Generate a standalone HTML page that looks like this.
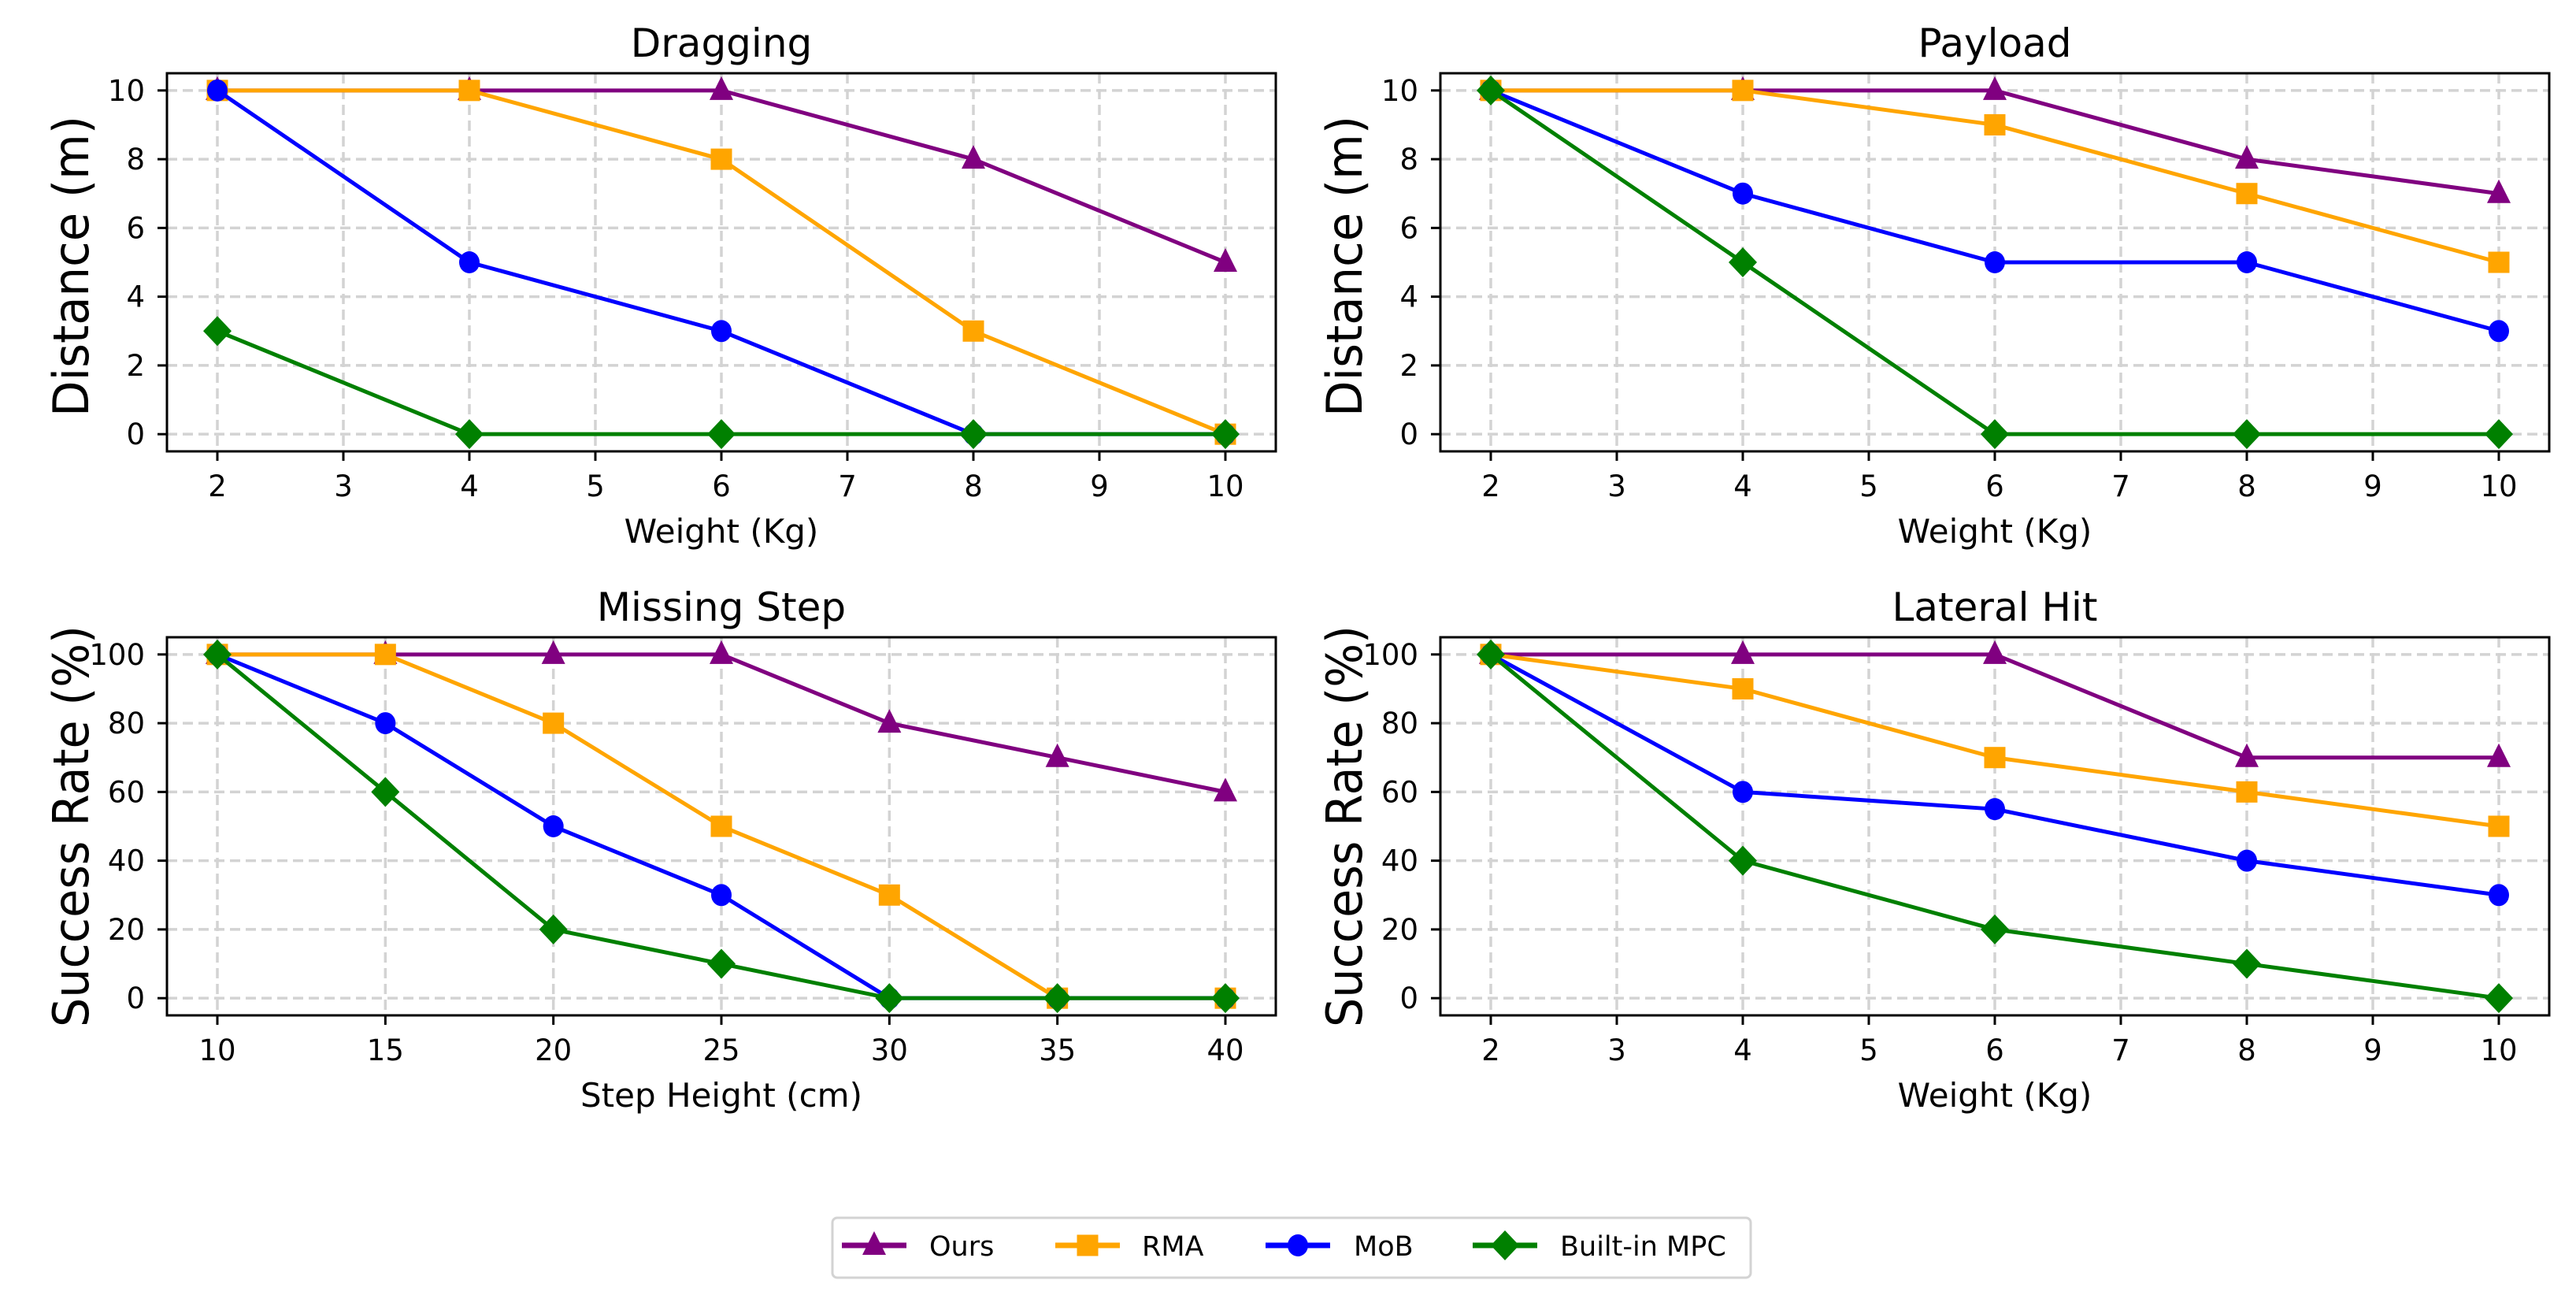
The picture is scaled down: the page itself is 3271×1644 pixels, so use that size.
<!DOCTYPE html>
<html><head><meta charset="utf-8"><style>
body{margin:0;background:#fff;}
svg text{font-family:"DejaVu Sans","Liberation Sans",sans-serif;fill:#000;}
</style></head><body>
<svg id="fig" width="3271" height="1639" viewBox="0 0 3271 1639" xmlns="http://www.w3.org/2000/svg"></svg>
<script>
// ---- data ----
const weightX = [2, 4, 6, 8, 10];
const stepX = [10, 15, 20, 25, 30, 35, 40];
const seriesNames = ["Ours", "RMA", "MoB", "Built-in MPC"];
const draggingOurs = [10, 10, 10, 8, 5];
const draggingRMA = [10, 10, 8, 3, 0];
const draggingMoB = [10, 5, 3, 0, 0];
const draggingMPC = [3, 0, 0, 0, 0];
const payloadOurs = [10, 10, 10, 8, 7];
const payloadRMA = [10, 10, 9, 7, 5];
const payloadMoB = [10, 7, 5, 5, 3];
const payloadMPC = [10, 5, 0, 0, 0];
const stepOurs = [100, 100, 100, 100, 80, 70, 60];
const stepRMA = [100, 100, 80, 50, 30, 0, 0];
const stepMoB = [100, 80, 50, 30, 0, 0, 0];
const stepMPC = [100, 60, 20, 10, 0, 0, 0];
const lateralOurs = [100, 100, 100, 70, 70];
const lateralRMA = [100, 90, 70, 60, 50];
const lateralMoB = [100, 60, 55, 40, 30];
const lateralMPC = [100, 40, 20, 10, 0];
const weightTicks = [2, 3, 4, 5, 6, 7, 8, 9, 10];
const stepTicks = [10, 15, 20, 25, 30, 35, 40];
const distTicks = [0, 2, 4, 6, 8, 10];
const rateTicks = [0, 20, 40, 60, 80, 100];

const NS = "http://www.w3.org/2000/svg";
const svg = document.getElementById("fig");
function mk(tag, attrs, parent) {
  const e = document.createElementNS(NS, tag);
  for (const k in attrs) e.setAttribute(k, attrs[k]);
  (parent || svg).appendChild(e);
  return e;
}
const colors = ["#800080", "#FFA500", "#0000FF", "#008000"];
const markers = ["tri", "sq", "circ", "dia"];

function marker(g, type, cx, cy, color) {
  let m;
  if (type === "tri") m = mk("polygon", {points: `${cx},${cy-18} ${cx-15},${cy+12} ${cx+15},${cy+12}`, fill: color}, g);
  else if (type === "sq") m = mk("rect", {x: cx-13.5, y: cy-13.5, width: 27, height: 27, fill: color}, g);
  else if (type === "circ") m = mk("ellipse", {cx: cx, cy: cy, rx: 13, ry: 14, fill: color}, g);
  else m = mk("polygon", {points: `${cx},${cy-19} ${cx+18},${cy} ${cx},${cy+19} ${cx-18},${cy}`, fill: color}, g);
  return m;
}

function panel(opt) {
  const g = mk("g", {});
  
  
  const L = opt.left, R = opt.left + 1408, T = opt.top, B = opt.top + 480;
  const sx = v => L + (v - opt.xmin) / (opt.xmax - opt.xmin) * (R - L);
  const sy = v => B - (v - opt.ymin) / (opt.ymax - opt.ymin) * (B - T);
  opt.xticks.forEach(t => {
    const l = mk("line", {x1: sx(t), x2: sx(t), y1: T, y2: B, stroke: "#d3d3d3", "stroke-width": 3.5, "stroke-dasharray": "13 7"}, g);
    
    
  });
  opt.yticks.forEach(t => {
    const l = mk("line", {x1: L, x2: R, y1: sy(t), y2: sy(t), stroke: "#d3d3d3", "stroke-width": 3.5, "stroke-dasharray": "13 7"}, g);
    
    
  });
  opt.series.forEach((vals, i) => {
    const pts = vals.map((v, j) => `${sx(opt.x[j])},${sy(v)}`).join(" ");
    const pl = mk("polyline", {points: pts, fill: "none", stroke: colors[i], "stroke-width": 5, "stroke-linejoin": "round"}, g);
    
    
    vals.forEach((v, j) => {
      const m = marker(g, markers[i], sx(opt.x[j]), sy(v), colors[i]);
      
      
    });
  });
  const fr = mk("rect", {x: L, y: T, width: R - L, height: B - T, fill: "none", stroke: "#000", "stroke-width": 3}, g);
  
  
  opt.xticks.forEach(t => {
    mk("line", {x1: sx(t), x2: sx(t), y1: B, y2: B + 12, stroke: "#000", "stroke-width": 3}, g);
    const tx = mk("text", {x: sx(t), y: B + 57, "text-anchor": "middle", "font-size": 37}, g);
    tx.textContent = t;
    
    
  });
  opt.yticks.forEach(t => {
    mk("line", {x1: L - 12, x2: L, y1: sy(t), y2: sy(t), stroke: "#000", "stroke-width": 3}, g);
    const tx = mk("text", {x: L - 28, y: sy(t) + 13, "text-anchor": "end", "font-size": 37}, g);
    tx.textContent = t;
    
    
  });
  const ti = mk("text", {x: (L + R) / 2, y: T - 21, "text-anchor": "middle", "font-size": 50}, g);
  ti.textContent = opt.title;
  
  
  const xl = mk("text", {x: (L + R) / 2, y: B + 116, "text-anchor": "middle", "font-size": 42}, g);
  xl.textContent = opt.xlabel;
  
  
  // y label: rotated, stretched to measured length
  const cy = (T + B) / 2 + opt.yoff;
  const yg = mk("g", {transform: `translate(${L - 122} ${cy}) rotate(-90)`}, g);
  const yl = mk("text", {x: 0, y: 22, "text-anchor": "middle", "font-size": 62}, yg);
  yl.textContent = opt.ylabel;
  
  
  let w = 0;
  try { w = yl.getComputedTextLength(); } catch (e) {}
  if (w > 0) yl.setAttribute("transform", `scale(${opt.ylen / w} 1)`);
}

panel({name: "dragging-panel", title: "Dragging", left: 212, top: 93, x: weightX, xmin: 1.6, xmax: 10.4, ymin: -0.5, ymax: 10.5,
  xticks: weightTicks, yticks: distTicks, xlabel: "Weight (Kg)", ylabel: "Distance (m)", ylen: 382, yoff: 5,
  series: [draggingOurs, draggingRMA, draggingMoB, draggingMPC]});
panel({name: "payload-panel", title: "Payload", left: 1829, top: 93, x: weightX, xmin: 1.6, xmax: 10.4, ymin: -0.5, ymax: 10.5,
  xticks: weightTicks, yticks: distTicks, xlabel: "Weight (Kg)", ylabel: "Distance (m)", ylen: 382, yoff: 5,
  series: [payloadOurs, payloadRMA, payloadMoB, payloadMPC]});
panel({name: "missing-step-panel", title: "Missing Step", left: 212, top: 809, x: stepX, xmin: 8.5, xmax: 41.5, ymin: -5, ymax: 105,
  xticks: stepTicks, yticks: rateTicks, xlabel: "Step Height (cm)", ylabel: "Success Rate (%)", ylen: 510, yoff: 0,
  series: [stepOurs, stepRMA, stepMoB, stepMPC]});
panel({name: "lateral-hit-panel", title: "Lateral Hit", left: 1829, top: 809, x: weightX, xmin: 1.6, xmax: 10.4, ymin: -5, ymax: 105,
  xticks: weightTicks, yticks: rateTicks, xlabel: "Weight (Kg)", ylabel: "Success Rate (%)", ylen: 510, yoff: 0,
  series: [lateralOurs, lateralRMA, lateralMoB, lateralMPC]});

const lg = mk("g", {});


mk("rect", {x: 1057, y: 1546, width: 1166, height: 76, rx: 6, fill: "#fff", stroke: "#d3d3d3", "stroke-width": 3}, lg);
const lineStarts = [1069, 1340, 1607, 1870];
const textStarts = [1180, 1450, 1719, 1981];
seriesNames.forEach((n, i) => {
  const e = mk("g", {}, lg);
  
  
  mk("line", {x1: lineStarts[i], x2: lineStarts[i] + 82, y1: 1581, y2: 1581, stroke: colors[i], "stroke-width": 7}, e);
  marker(e, markers[i], lineStarts[i] + 41, 1581, colors[i]);
  const t = mk("text", {x: textStarts[i], y: 1594, "font-size": 35}, e);
  t.textContent = n;
});
</script>
</body></html>
